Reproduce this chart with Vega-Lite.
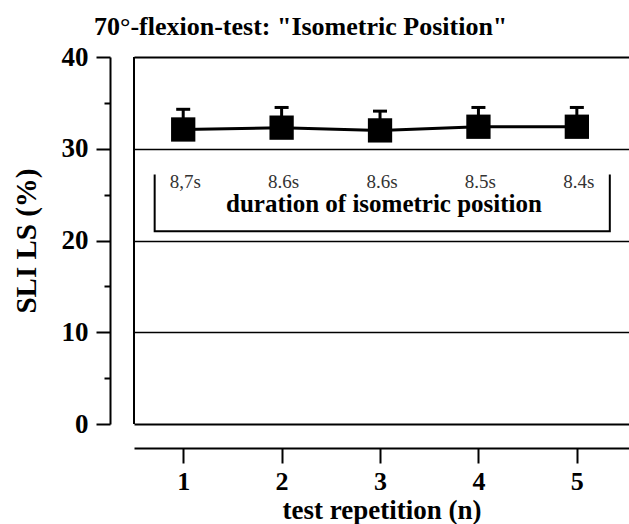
{
  "$schema": "https://vega.github.io/schema/vega-lite/v6.json",
  "autosize": "none",
  "width": 495,
  "height": 367,
  "padding": {"left": 134, "top": 57, "right": 0, "bottom": 100},
  "background": "white",
  "config": {"view": {"stroke": null}, "font": "Liberation Serif"},
  "title": {
    "text": "70°-flexion-test: \"Isometric Position\"",
    "anchor": "start",
    "frame": "group",
    "dx": -40,
    "dy": 7,
    "offset": 10,
    "font": "Liberation Serif",
    "fontSize": 26,
    "fontWeight": "bold",
    "color": "black"
  },
  "datasets": {
    "means": [
      {"rep": 1, "sli": 32.1, "upper": 34.3},
      {"rep": 2, "sli": 32.3, "upper": 34.5},
      {"rep": 3, "sli": 32.0, "upper": 34.1},
      {"rep": 4, "sli": 32.4, "upper": 34.5},
      {"rep": 5, "sli": 32.4, "upper": 34.5}
    ],
    "durations": [
      {"rep": 1, "label": "8,7s"},
      {"rep": 2, "label": "8.6s"},
      {"rep": 3, "label": "8.6s"},
      {"rep": 4, "label": "8.5s"},
      {"rep": 5, "label": "8.4s"}
    ],
    "bracket": [
      {"pt": 1, "rep": 0.71, "sli": 27.2},
      {"pt": 2, "rep": 0.71, "sli": 21.0},
      {"pt": 3, "rep": 5.335, "sli": 21.0},
      {"pt": 4, "rep": 5.335, "sli": 27.2}
    ],
    "box": [{"rep": 0.5}]
  },
  "layer": [
    {
      "data": {"name": "means"},
      "mark": {"type": "line", "color": "black", "strokeWidth": 3},
      "encoding": {
        "x": {
          "field": "rep", "type": "quantitative",
          "scale": {"domain": [0.5, 5.53], "nice": false, "zero": false},
          "axis": {
            "orient": "bottom", "offset": 24, "values": [1, 2, 3, 4, 5],
            "format": "d",
            "grid": false,
            "domainColor": "black", "domainWidth": 2,
            "tickColor": "black", "tickWidth": 2, "tickSize": 15,
            "labelFont": "Liberation Serif", "labelFontSize": 26, "labelFontWeight": "bold",
            "labelColor": "black", "labelPadding": 5, "labelFlush": false,
            "title": "test repetition (n)",
            "titleFont": "Liberation Serif", "titleFontSize": 27, "titleFontWeight": "bold",
            "titleColor": "black", "titlePadding": 3
          }
        },
        "y": {
          "field": "sli", "type": "quantitative",
          "scale": {"domain": [0, 40], "nice": false, "zero": true},
          "axis": {
            "orient": "left", "offset": 24,
            "values": [0, 5, 10, 15, 20, 25, 30, 35, 40],
            "domainColor": "black", "domainWidth": 2,
            "tickColor": "black", "tickWidth": 2,
            "tickSize": {"condition": {"test": "datum.value % 10 === 0", "value": 14}, "value": 6},
            "labelExpr": "datum.value % 10 === 0 ? datum.label : ''",
            "labelFont": "Liberation Serif", "labelFontSize": 27, "labelFontWeight": "bold",
            "labelColor": "black", "labelPadding": 8, "labelFlush": false,
            "grid": true, "gridColor": "black",
            "gridOpacity": {"condition": {"test": "datum.value % 10 === 0", "value": 1}, "value": 0},
            "gridWidth": {"condition": {"test": "datum.value === 0 || datum.value === 40", "value": 2}, "value": 1.5},
            "title": "SLI LS (%)",
            "titleFont": "Liberation Serif", "titleFontSize": 29, "titleFontWeight": "bold",
            "titleColor": "black", "titlePadding": 20
          }
        }
      }
    },
    {
      "data": {"name": "box"},
      "mark": {"type": "rule", "color": "black", "strokeWidth": 2},
      "encoding": {
        "x": {"field": "rep", "type": "quantitative"}
      }
    },
    {
      "data": {"name": "means"},
      "mark": {"type": "rule", "color": "black", "strokeWidth": 3},
      "encoding": {
        "x": {"field": "rep", "type": "quantitative"},
        "y": {"field": "sli", "type": "quantitative"},
        "y2": {"field": "upper"}
      }
    },
    {
      "data": {"name": "means"},
      "mark": {"type": "tick", "orient": "horizontal", "color": "black", "size": 14, "thickness": 3, "opacity": 1},
      "encoding": {
        "x": {"field": "rep", "type": "quantitative"},
        "y": {"field": "upper", "type": "quantitative"}
      }
    },
    {
      "data": {"name": "means"},
      "mark": {"type": "point", "shape": "square", "filled": true, "color": "black", "size": 590, "opacity": 1},
      "encoding": {
        "x": {"field": "rep", "type": "quantitative"},
        "y": {"field": "sli", "type": "quantitative"}
      }
    },
    {
      "data": {"name": "bracket"},
      "mark": {"type": "line", "color": "black", "strokeWidth": 2},
      "encoding": {
        "x": {"field": "rep", "type": "quantitative"},
        "y": {"field": "sli", "type": "quantitative"},
        "order": {"field": "pt"}
      }
    },
    {
      "data": {"name": "durations"},
      "mark": {"type": "text", "font": "Liberation Serif", "fontSize": 19, "color": "#333333", "baseline": "alphabetic", "align": "center", "dx": 2},
      "encoding": {
        "x": {"field": "rep", "type": "quantitative"},
        "y": {"datum": 25.7, "type": "quantitative"},
        "text": {"field": "label"}
      }
    },
    {
      "data": {"values": [{"caption": "duration of isometric position"}]},
      "mark": {"type": "text", "font": "Liberation Serif", "fontSize": 25, "fontWeight": "bold", "color": "black", "baseline": "alphabetic", "align": "center"},
      "encoding": {
        "x": {"datum": 3.04, "type": "quantitative"},
        "y": {"datum": 23.1, "type": "quantitative"},
        "text": {"field": "caption"}
      }
    }
  ]
}
